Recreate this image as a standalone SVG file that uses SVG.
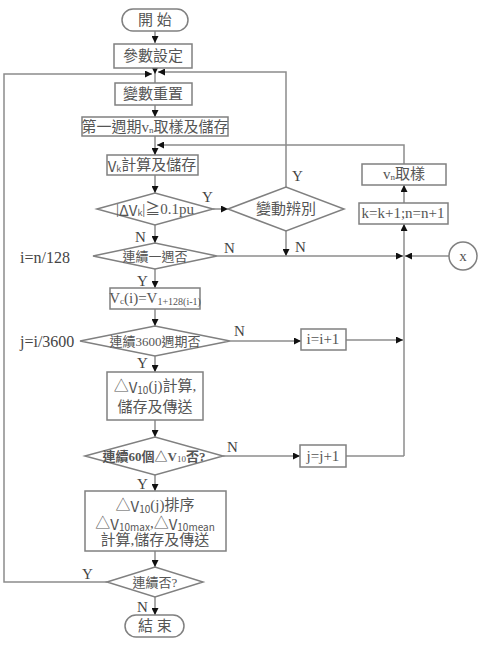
<svg xmlns="http://www.w3.org/2000/svg" width="478" height="645" viewBox="0 0 478 645">
<style>
.box{fill:#fff;stroke:#808080;stroke-width:1.5}
.ln{fill:none;stroke:#8c8c8c;stroke-width:1.5}
.a{marker-end:url(#ah)}
.t{font-family:"Liberation Serif","Noto Sans CJK TC",serif;font-size:15px;fill:#555;text-anchor:middle;dominant-baseline:central}
.s{font-family:"Noto Sans CJK TC","Liberation Sans",sans-serif}
.lb{font-family:"Liberation Serif",serif;font-size:15px;fill:#444;dominant-baseline:central}
</style>
<defs>
<marker id="ah" viewBox="0 0 10 10" refX="10" refY="5" markerWidth="7" markerHeight="7" markerUnits="userSpaceOnUse" orient="auto">
<path d="M0,0 L10,5 L0,10 z" fill="#111"/>
</marker>
</defs>
<rect width="478" height="645" fill="#fff"/>
<g id="connectors">
<path class="ln a" d="M155,31 V43"/>
<path class="ln a" d="M155,68 V74"/>
<path class="ln" d="M155,74 V83"/>
<path class="ln a" d="M155,105 V117"/>
<path class="ln a" d="M155,136 V155"/>
<path class="ln a" d="M155,175 V193"/>
<path class="ln a" d="M213,209 H228"/>
<path class="ln a" d="M155,225 V243"/>
<path class="ln a" d="M286,187 V72 H158"/>
<path class="ln a" d="M286,231 V256"/>
<path class="ln a" d="M217,256 H403"/>
<path class="ln a" d="M449,256 H405"/>
<path class="ln a" d="M404,456 V224"/>
<path class="ln a" d="M404,203 V185"/>
<path class="ln a" d="M404,164 V145 H157"/>
<path class="ln a" d="M155,269 V288"/>
<path class="ln a" d="M155,309 V326"/>
<path class="ln a" d="M230,341 H301"/>
<path class="ln a" d="M346,340 H403"/>
<path class="ln a" d="M155,356 V372"/>
<path class="ln a" d="M155,420 V437"/>
<path class="ln a" d="M223,456 H300"/>
<path class="ln" d="M346,456 H404"/>
<path class="ln a" d="M155,475 V491"/>
<path class="ln a" d="M155,551 V567"/>
<path class="ln a" d="M107,582 H4 V74 H152"/>
<path class="ln a" d="M155,597 V615"/>
<text class="lb" x="202" y="197">Y</text>
<text class="lb" x="135" y="237">N</text>
<text class="lb" x="292" y="176">Y</text>
<text class="lb" x="295" y="247">N</text>
<text class="lb" x="224" y="248">N</text>
<text class="lb" x="137" y="281">Y</text>
<text class="lb" x="234" y="331">N</text>
<text class="lb" x="137" y="363">Y</text>
<text class="lb" x="227" y="447">N</text>
<text class="lb" x="137" y="484">Y</text>
<text class="lb" x="82" y="574">Y</text>
<text class="lb" x="137" y="607">N</text>
<text class="lb" x="20" y="257" style="font-size:16px">i=n/128</text>
<text class="lb" x="20" y="341" style="font-size:16px">j=i/3600</text>
</g>
<g id="start">
<rect class="box" x="122" y="9" width="66" height="22" rx="11"/>
<text class="t" x="155" y="20">開 始</text>
</g>
<g id="param">
<rect class="box" x="114" y="44" width="78" height="24"/>
<text class="t" x="153" y="56">參數設定</text>
</g>
<g id="reset">
<rect class="box" x="115" y="83" width="77" height="22"/>
<text class="t" x="153" y="94">變數重置</text>
</g>
<g id="first">
<rect class="box" x="82" y="117" width="146" height="19"/>
<text class="t" x="155" y="127">第一週期<tspan>v</tspan><tspan font-size="9" dy="3">n</tspan><tspan dy="-3">取樣及儲存</tspan></text>
</g>
<g id="vk">
<rect class="box" x="107" y="155" width="91" height="20"/>
<text class="t" x="152" y="165"><tspan class="s">V</tspan><tspan class="s" font-size="9" dy="3">k</tspan><tspan dy="-3">計算及儲存</tspan></text>
</g>
<g id="dvk">
<polygon class="box" points="97,209 155,193 213,209 155,225"/>
<text class="t" x="155" y="209">|<tspan class="s">ΔV</tspan><tspan class="s" font-size="9" dy="3">k</tspan><tspan dy="-3">|≧0.1pu</tspan></text>
</g>
<g id="judge">
<polygon class="box" points="228,209 286,187 344,209 286,231"/>
<text class="t" x="286" y="209">變動辨別</text>
</g>
<g id="vn">
<rect class="box" x="362" y="164" width="84" height="21"/>
<text class="t" x="404" y="174">v<tspan font-size="9" dy="3">n</tspan><tspan dy="-3">取樣</tspan></text>
</g>
<g id="kn">
<rect class="box" x="359" y="203" width="89" height="21"/>
<text class="t" x="403" y="213">k=k+1;n=n+1</text>
</g>
<g id="x">
<circle class="box" cx="463" cy="256" r="14"/>
<text class="t" x="463" y="256">x</text>
</g>
<g id="week">
<polygon class="box" points="93,256 155,243 217,256 155,269"/>
<text class="t" x="155" y="256" style="font-size:13px">連續一週否</text>
</g>
<g id="vc">
<rect class="box" x="110" y="288" width="90" height="21"/>
<text class="t" x="155" y="298">V<tspan font-size="9" dy="3">c</tspan><tspan dy="-3">(i)=V</tspan><tspan font-size="10" dy="3">1+128(i-1)</tspan></text>
</g>
<g id="p3600">
<polygon class="box" points="80,341 155,326 230,341 155,356"/>
<text class="t" x="155" y="341" style="font-size:13px">連續3600週期否</text>
</g>
<g id="iinc">
<rect class="box" x="301" y="329" width="45" height="21"/>
<text class="t" x="323" y="339">i=i+1</text>
</g>
<g id="dv10">
<rect class="box" x="107" y="372" width="96" height="48"/>
<text class="t" x="155" y="386">△<tspan class="s">V</tspan><tspan class="s" font-size="10" dy="3">10</tspan><tspan dy="-3">(j)計算,</tspan></text>
<text class="t" x="155" y="407">儲存及傳送</text>
</g>
<g id="p60">
<polygon class="box" points="85,456 155,437 223,456 155,475"/>
<text class="t" x="154" y="456" style="font-size:13px;font-weight:bold">連續60個△V<tspan font-size="9" font-weight="normal" dy="3">10</tspan><tspan dy="-3">否?</tspan></text>
</g>
<g id="jinc">
<rect class="box" x="300" y="445" width="46" height="22"/>
<text class="t" x="323" y="456">j=j+1</text>
</g>
<g id="sort">
<rect class="box" x="85" y="491" width="141" height="60"/>
<text class="t" x="155" y="505">△<tspan class="s">V</tspan><tspan class="s" font-size="10" dy="3">10</tspan><tspan dy="-3">(j)排序</tspan></text>
<text class="t" x="155" y="523">△<tspan class="s">V</tspan><tspan class="s" font-size="10" dy="3">10max</tspan><tspan dy="-3">,△</tspan><tspan class="s">V</tspan><tspan class="s" font-size="10" dy="3">10mean</tspan></text>
<text class="t" x="155" y="540">計算,儲存及傳送</text>
</g>
<g id="cont">
<polygon class="box" points="107,582 155,567 203,582 155,597"/>
<text class="t" x="155" y="582" style="font-size:13px">連續否?</text>
</g>
<g id="end">
<rect class="box" x="125" y="615" width="59" height="22" rx="11"/>
<text class="t" x="155" y="626">結 束</text>
</g>
</svg>
